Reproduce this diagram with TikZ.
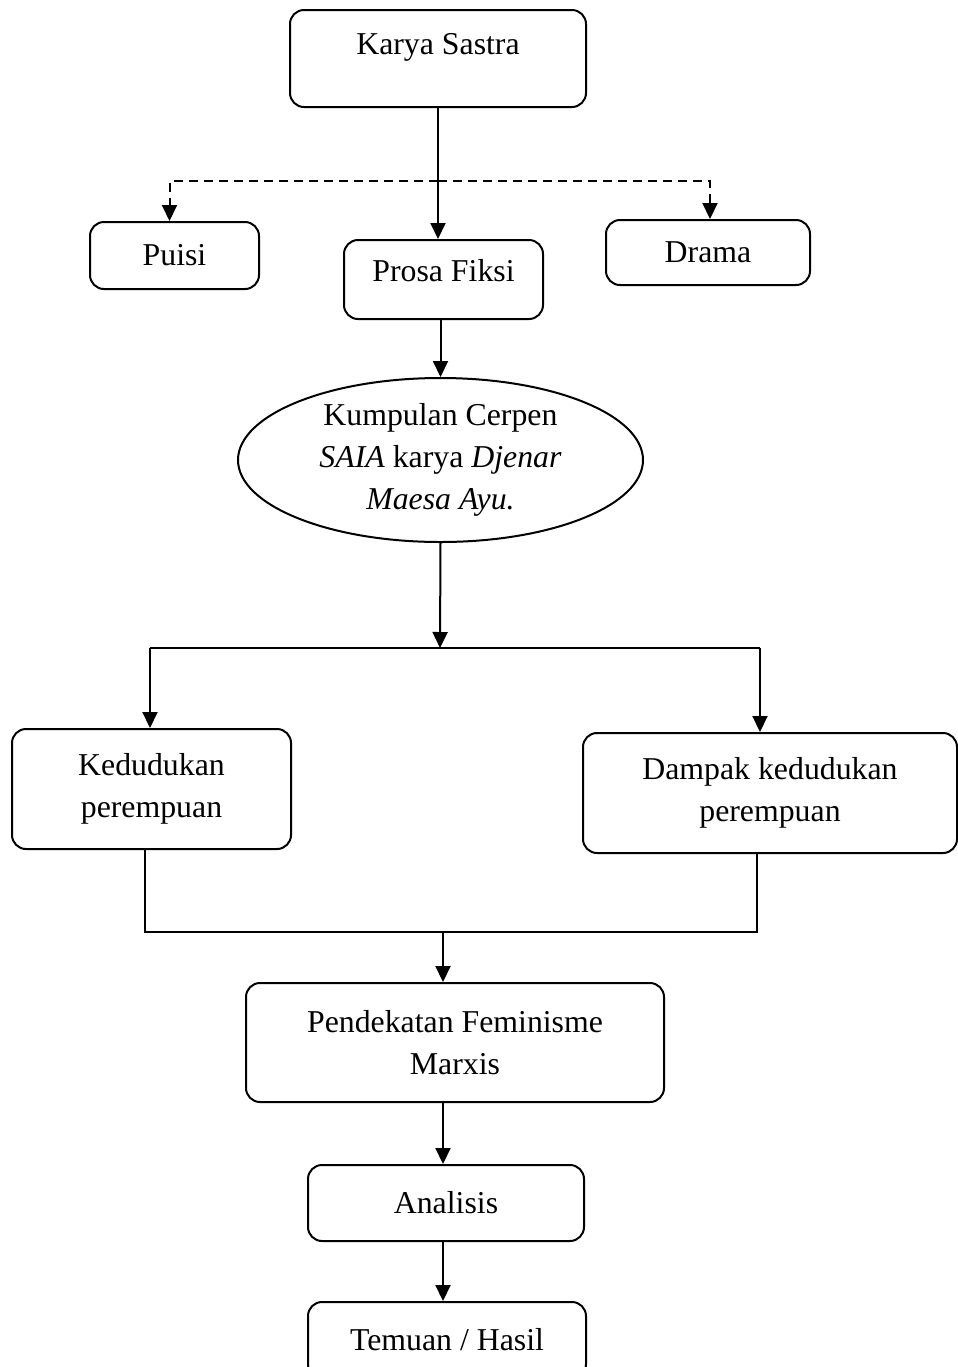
\documentclass[tikz,border=0pt]{standalone}
\usepackage{fontspec}
\setmainfont{Liberation Serif}
\usetikzlibrary{positioning}
\usetikzlibrary{arrows.meta}
\usetikzlibrary{shapes.geometric}

\begin{document}
\begin{tikzpicture}[x=0.5pt,y=-0.5pt,
  boxnode/.style={draw,line width=1pt,shape=rectangle,rounded corners=7pt,align=center,inner sep=0pt,
    font=\fontsize{15.9}{21}\selectfont},
  ovalnode/.style={draw,line width=1pt,shape=ellipse,align=center,inner sep=0pt,
    font=\fontsize{15.9}{21}\selectfont},
  arr/.style={line width=1pt,-{Triangle[length=8pt,width=7.5pt]}},
  link/.style={line width=1pt}]
\useasboundingbox (0,0) rectangle (958,1367);

\node[boxnode,minimum width=148pt,minimum height=48.5pt,text depth=15pt]
(karya) at (438,58.5) {Karya Sastra};
\node[boxnode,minimum width=84.5pt,minimum height=33.5pt]
(puisi) at (174.5,255.5) {Puisi};
\node[boxnode,minimum width=99.5pt,minimum height=39.5pt,text depth=9pt]
(prosa) at (443.5,279.5) {Prosa Fiksi};
\node[boxnode,minimum width=102pt,minimum height=32.5pt]
(drama) at (708,252.5) {Drama};
\node[ovalnode,minimum width=202.5pt,minimum height=82pt]
(cerpen) at (440.5,460) {Kumpulan Cerpen\\ \textit{SAIA} karya \textit{Djenar}\\ \textit{Maesa Ayu.}};
\node[boxnode,minimum width=139.5pt,minimum height=60pt]
(kedudukan) at (151.5,789) {Kedudukan\\ perempuan};
\node[boxnode,minimum width=187pt,minimum height=60pt]
(dampak) at (770,793) {Dampak kedudukan\\ perempuan};
\node[boxnode,minimum width=209pt,minimum height=59.5pt]
(pendekatan) at (455,1042.5) {Pendekatan Feminisme\\ Marxis};
\node[boxnode,minimum width=138pt,minimum height=38pt]
(analisis) at (446,1203) {Analisis};
\node[boxnode,minimum width=139pt,minimum height=38pt]
(temuan) at (447,1340) {Temuan / Hasil};

% branching points
\coordinate (dsplit) at (438,181);
\coordinate (splitM) at (440,648);
\coordinate (splitL) at (150,648);
\coordinate (splitR) at (760,648);
\coordinate (mergeL) at (145,932);
\coordinate (mergeM) at (443,932);
\coordinate (mergeR) at (757,932);

\draw[arr] (karya.south) -- (karya.south |- prosa.north);
\draw[arr,dash pattern=on 4.5pt off 3pt] (dsplit) -| ([xshift=-2.5pt]puisi.north);
\draw[arr,dash pattern=on 4.5pt off 3pt] (dsplit) -| ([xshift=1pt]drama.north);
\draw[arr] (prosa.south -| cerpen.south) -- (cerpen.north);
\draw[arr] (cerpen.south) -- (splitM);
\draw[link] (splitL) -- (splitR);
\draw[arr] (splitL) -- (kedudukan.north -| splitL);
\draw[arr] (splitR) -- (dampak.north -| splitR);
\draw[link] (kedudukan.south -| mergeL) -- (mergeL) -- (mergeR) -- (dampak.south -| mergeR);
\draw[arr] (mergeM) -- (pendekatan.north -| mergeM);
\draw[arr] (pendekatan.south -| mergeM) -- (analisis.north -| mergeM);
\draw[arr] (analisis.south -| mergeM) -- (temuan.north -| mergeM);

\end{tikzpicture}
\end{document}
